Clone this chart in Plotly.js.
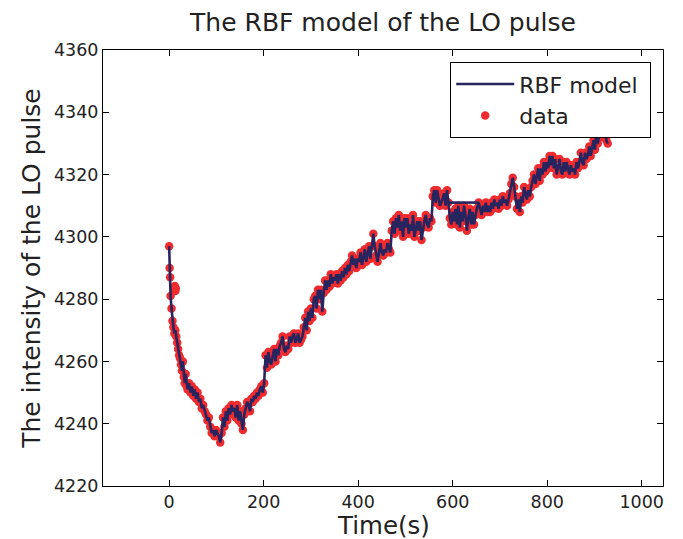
<!DOCTYPE html>
<html>
<head>
<meta charset="utf-8">
<script src="https://cdn.plot.ly/plotly-3.0.1.min.js"></script>
<style>html,body{margin:0;padding:0;background:#fff;}#chart{width:683px;height:539px;}</style>
</head>
<body>
<div id="chart"></div>
<script>
// Time (s) of each measurement
const timeS = [
  0,1,2,3,5,7,9,11,13,15,17,19,21,23,25,27,29,31,33,35,37,39,
  42,45,48,51,54,57,60,63,66,69,72,75,78,81,84,87,90,93,96,99,102,105,108,111,114,117,
  120,123,126,129,132,135,138,141,144,147,150,153,156,159,162,165,168,171,174,177,180,183,186,189,192,195,198,201,
  204,207,210,213,216,219,222,225,228,231,234,237,240,243,246,249,252,255,258,261,264,267,270,273,276,279,282,285,288,291,294,297,300,
  303,306,309,312,315,318,321,324,327,330,333,336,339,342,345,348,351,354,357,360,363,366,369,372,375,378,381,384,387,390,393,396,399,
  402,405,408,411,414,417,420,423,426,429,432,435,438,441,444,447,450,453,456,459,462,465,468,471,474,477,480,483,486,489,492,495,498,
  501,504,507,510,513,516,519,522,525,528,531,534,537,540,543,546,549,552,555,558,561,564,567,570,573,576,579,582,585,588,591,594,597,
  600,603,606,609,612,615,618,621,624,627,630,633,636,639,642,645,648,651,655,658,661,664,667,670,673,676,679,682,685,688,691,694,697,700,
  703,706,709,712,715,718,721,724,727,730,733,736,739,742,745,748,751,754,757,760,763,766,769,772,775,778,781,784,787,790,793,796,799,
  802,805,808,811,814,817,820,823,826,829,832,835,838,841,844,847,850,853,856,859,862,865,868,871,874,877,880,883,886,889,892,895,898,901,904,907,910,913,916,919,922,925,928
];
// Intensity of the LO pulse at each time
const intensity = [
  4297,4290,4287,4281,4277,4273,4271,4269,4270,4268,4266,4264,4262,4261,4259,4257,4260,4255,4253,4256,4252,4251,
  4253,4250,4252,4249,4251,4248,4250,4247,4248,4245,4246,4244,4243,4241,4242,4239,4237,4238,4236,4238,4237,4236,4234,4237,4242,4239,
  4244,4241,4245,4243,4246,4244,4245,4242,4246,4241,4244,4240,4238,4243,4245,4247,4246,4244,4248,4247,4249,4248,4250,4249,4251,4252,4250,4253,
  4262,4258,4263,4260,4259,4262,4264,4260,4264,4262,4265,4266,4268,4264,4263,4265,4264,4268,4266,4268,4269,4266,4267,4269,4266,4267,4268,4271,4274,4270,4276,4273,4277,
  4274,4280,4281,4277,4283,4280,4283,4276,4282,4286,4283,4286,4284,4288,4285,4287,4286,4288,4285,4288,4286,4289,4287,4290,4288,4291,4289,4292,4294,4291,4293,4290,4293,
  4292,4295,4291,4293,4296,4292,4294,4297,4293,4297,4301,4297,4294,4292,4295,4298,4295,4294,4296,4295,4298,4296,4295,4302,4305,4301,4306,4303,4307,4302,4305,4300,4306,
  4303,4306,4301,4304,4302,4307,4300,4303,4305,4302,4305,4299,4303,4305,4307,4304,4303,4306,4305,4313,4315,4311,4315,4312,4310,4311,4313,4314,4310,4315,4311,4306,4304,
  4308,4305,4309,4304,4310,4303,4308,4305,4310,4307,4302,4306,4309,4304,4308,4304,4307,4309,4311,4309,4307,4310,4308,4311,4308,4310,4308,4311,4309,4312,4310,4311,4309,4312,
  4310,4313,4311,4312,4310,4312,4314,4317,4319,4316,4313,4309,4312,4308,4313,4311,4316,4314,4312,4315,4313,4316,4318,4320,4317,4319,4322,4318,4322,4320,4324,4321,4324,
  4322,4326,4323,4326,4322,4325,4320,4322,4325,4321,4320,4324,4321,4324,4322,4320,4323,4321,4322,4320,4324,4322,4324,4327,4324,4323,4327,4325,4326,4329,4326,4329,4331,4328,4334,4330,4333,4336,4332,4338,4335,4331,4330
];
// Outlying measurements not on the model curve
const outlierTime = [11, 12, 13, 14];
const outlierIntensity = [4283, 4284.2, 4282.6, 4283.4];
// Model curve jumps directly between these two times
const modelJump = [591, 655];

const tickVals = [0, 200, 400, 600, 800, 1000];
const yTickVals = [4220, 4240, 4260, 4280, 4300, 4320, 4340, 4360];

const jumpY = modelJump.map(t => intensity[timeS.indexOf(t)]);

const FONT = 'DejaVu Sans, sans-serif';
const traces = [
  {
    x: timeS.concat(outlierTime), y: intensity.concat(outlierIntensity),
    type: 'scatter', mode: 'markers', name: 'data\u00a0\u00a0\u00a0\u00a0\u00a0\u00a0\u00a0\u00a0', legendgroup: 'b', legendrank: 2,
    marker: {color: '#ef2b2f', size: 8.5, line: {width: 0}},
  },
  {
    x: timeS, y: intensity, type: 'scatter', mode: 'lines', name: 'RBF model\u00a0', legendgroup: 'a', legendrank: 1,
    line: {color: '#27255f', width: 2.6},
  },
  {
    x: modelJump, y: jumpY, type: 'scatter', mode: 'lines', showlegend: false, legendgroup: 'a',
    line: {color: '#27255f', width: 2.6}, hoverinfo: 'skip'
  }
];

const axisCommon = {
  showline: true, linecolor: '#000', linewidth: 1, mirror: 'ticks',
  ticks: 'inside', ticklen: 6, tickwidth: 1, tickcolor: '#000',
  showgrid: false, zeroline: false,
  tickfont: {family: FONT, size: 17.5, color: '#222'},
};

const layout = {
  width: 683, height: 539,
  margin: {l: 103, r: 20, t: 50, b: 53},
  paper_bgcolor: '#fff', plot_bgcolor: '#fff',
  font: {family: FONT, color: '#222'},
  title: {text: 'The RBF model of the LO pulse', font: {family: FONT, size: 25, color: '#222'},
          x: 0.5, xref: 'paper', y: 1 - 22/539, yref: 'container', yanchor: 'middle'},
  xaxis: Object.assign({}, axisCommon, {
    range: [-140, 1045], tickvals: tickVals, ticktext: tickVals.map(String),
    automargin: false,
  }),
  yaxis: Object.assign({}, axisCommon, {
    range: [4220, 4360], tickvals: yTickVals, ticktext: yTickVals.map(String),
    title: {text: 'The intensity of the LO pulse', font: {family: FONT, size: 25, color: '#222'}, standoff: 6},
    automargin: false,
  }),
  annotations: [{
    text: 'Time(s)', xref: 'paper', yref: 'paper', x: 0.5, y: -(525 - 486) / 436,
    xanchor: 'center', yanchor: 'middle', showarrow: false,
    font: {family: FONT, size: 24.5, color: '#222'}
  }],
  showlegend: true,
  legend: {
    x: 0.62, y: 0.972, xanchor: 'left', yanchor: 'top', traceorder: 'grouped',
    tracegroupgap: 0,
    bgcolor: '#fff', bordercolor: '#000', borderwidth: 1,
    font: {family: FONT, size: 22, color: '#222'}, itemwidth: 58,
  },
};

Plotly.newPlot('chart', traces, layout, {displayModeBar: false, staticPlot: true});
</script>
</body>
</html>
